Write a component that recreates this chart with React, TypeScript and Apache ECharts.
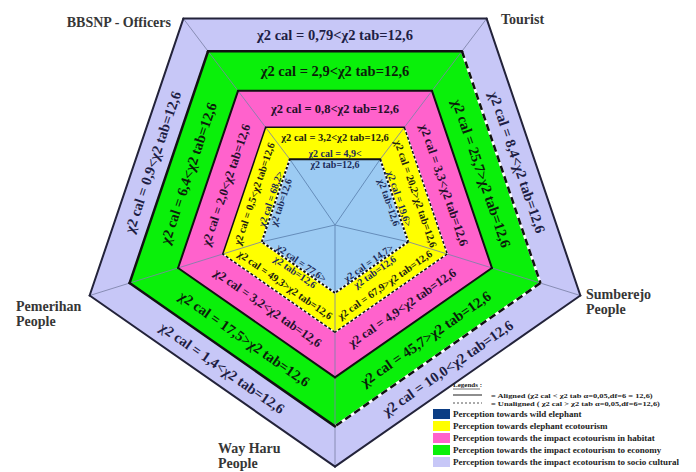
import { useEffect, useRef } from "react";
import * as echarts from "echarts";

// ---------- data ----------
const chiTab = 12.6;
// vertex labels, clockwise from top-left
const vertexLabels = ["BBSNP - Officers", "Tourist", "Sumberejo\nPeople", "Way Haru\nPeople", "Pemerihan\nPeople"];
// chi-square values per side: top, right, bottom-right, bottom-left, left
const socioCultural = [0.79, 8.4, 10.0, 1.4, 0.9];
const economy = [2.9, 25.7, 45.7, 17.5, 6.4];
const habitat = [0.8, 3.3, 4.9, 3.2, 2.0];
const ecotourism = [3.2, 20.2, 67.9, 49.3, 0.5];
const wildElephant = [4.9, 19.6, 14.7, 77.6, 68.2];
// borders drawn as "unaligned" (dashed) in the figure, per side
const dashedSocio = [0, 0, 0, 0, 0];
const dashedEconomy = [0, 1, 1, 0, 0];
const dashedHabitat = [0, 0, 0, 0, 0];
const dashedEcotourism = [0, 1, 1, 1, 0];
const dashedWild = [0, 1, 1, 1, 1];
const legendTitle = "Legends :";
const legendAligned = "= Aligned (\u03c72 cal < \u03c72 tab \u03b1=0,05,df=6 = 12,6)";
const legendUnaligned = "= Unaligned ( \u03c72 cal > \u03c72 tab \u03b1=0,05,df=6=12,6)";
const legendLabels = [
  "Perception towards wild elephant",
  "Perception towards elephant ecotourism",
  "Perception towards the impact ecotourism in habitat",
  "Perception towards the impact ecotourism to economy",
  "Perception towards the impact ecotourism to socio cultural",
];

// ---------- styles / geometry ----------
const layerValues = [socioCultural, economy, habitat, ecotourism, wildElephant];
const layerDashed = [dashedSocio, dashedEconomy, dashedHabitat, dashedEcotourism, dashedWild];
const layerColors = ["#c7c7f7", "#0af00a", "#ff62cc", "#ffff00", "#9ccbf3"];
const legendColors = ["#0b3d84", "#ffff00", "#ff62cc", "#0af00a", "#c7c7f7"];
const RADII = [258, 216, 165, 118, 77];
const CX = 335;
const CY = 219;
const SY = 0.96;
const ANG = [-126, -54, 18, 90, 162].map((d) => (d * Math.PI) / 180);

const pt = (r: number, k: number): [number, number] => [
  CX + r * Math.cos(ANG[k % 5]),
  CY + r * SY * Math.sin(ANG[k % 5]),
];

const fmt = (v: number) => {
  const one = Math.abs(Math.round(v * 10) - v * 10) < 1e-9;
  return (one ? v.toFixed(1) : v.toFixed(2)).replace(".", ",");
};

const sideAngle = (r: number, k: number) => {
  const a0 = pt(r, k);
  const a1 = pt(r, k + 1);
  let a = Math.atan2(a1[1] - a0[1], a1[0] - a0[0]);
  if (a > Math.PI / 2) a -= Math.PI;
  if (a < -Math.PI / 2) a += Math.PI;
  return -a;
};

const sideMid = (r: number, k: number): [number, number] => {
  const a0 = pt(r, k);
  const a1 = pt(r, k + 1);
  return [(a0[0] + a1[0]) / 2, (a0[1] + a1[1]) / 2];
};

const SERIF = '"Liberation Serif", "DejaVu Serif", serif';
const ringFont = [14.5, 14.5, 12.5, 10.5];
const ringFrac = [0.5, 0.5, 0.5, 0.68];
const ringTextColor = ["#1e1e44", "#0a1e0a", "#24102a", "#222210"];
const borderWidth = [2, 2.5, 2, 1.5, 2];
const borderDash = [[6, 4], [7, 4], [5, 3], [3, 2], [2.5, 2]];

function buildGraphics() {
  const els: any[] = [];
  // fills
  RADII.forEach((r, i) => {
    els.push({
      type: "polygon",
      shape: { points: [0, 1, 2, 3, 4].map((k) => pt(r, k)) },
      style: { fill: layerColors[i], stroke: "none" },
      z: 1,
    });
  });
  // miter lines / spokes
  for (let k = 0; k < 5; k++) {
    const a = pt(RADII[0], k);
    const b = pt(RADII[4], k);
    els.push({
      type: "line",
      shape: { x1: a[0], y1: a[1], x2: b[0], y2: b[1] },
      style: { stroke: "#7c82a8", lineWidth: 1, opacity: 0.85 },
      z: 2,
    });
    els.push({
      type: "line",
      shape: { x1: b[0], y1: b[1], x2: CX, y2: CY + 6 },
      style: { stroke: "#5f86b4", lineWidth: 1, opacity: 0.9 },
      z: 2,
    });
  }
  // borders
  RADII.forEach((r, i) => {
    for (let k = 0; k < 5; k++) {
      const a = pt(r, k);
      const b = pt(r, k + 1);
      const shape = { x1: a[0], y1: a[1], x2: b[0], y2: b[1] };
      if (layerDashed[i][k]) {
        els.push({ type: "line", shape, style: { stroke: "#ffffff", lineWidth: borderWidth[i] }, z: 3 });
        els.push({
          type: "line",
          shape,
          style: { stroke: "#111111", lineWidth: borderWidth[i], lineDash: borderDash[i] },
          z: 4,
        });
      } else {
        els.push({
          type: "line",
          shape,
          style: { stroke: i === 0 ? "#23233a" : "#111111", lineWidth: borderWidth[i], lineCap: "round" },
          z: 4,
        });
      }
    }
  });
  // ring texts
  for (let i = 0; i < 4; i++) {
    const rIn = RADII[i + 1];
    const rOut = RADII[i];
    const r = rIn + ringFrac[i] * (rOut - rIn);
    layerValues[i].forEach((v, k) => {
      const [x, y] = sideMid(r, k);
      els.push({
        type: "text",
        x,
        y,
        rotation: sideAngle(r, k),
        style: {
          text: `\u03c72 cal = ${fmt(v)}${v < chiTab ? "<" : ">"}\u03c72 tab=${fmt(chiTab)}`,
          fill: ringTextColor[i],
          font: `bold ${ringFont[i]}px ${SERIF}`,
          align: "center",
          verticalAlign: "middle",
        },
        z: 10,
      });
    });
  }
  // inner (wild elephant) texts straddling the inner edge
  wildElephant.forEach((v, k) => {
    const [x, y] = sideMid(RADII[4], k);
    els.push({
      type: "text",
      x,
      y,
      rotation: sideAngle(RADII[4], k),
      style: {
        text: `\u03c72 cal = ${fmt(v)}${v < chiTab ? "<" : ">"}\n\u03c72 tab=${fmt(chiTab)}`,
        fill: "#1c2c58",
        font: `bold 10px ${SERIF}`,
        lineHeight: 11,
        align: "center",
        verticalAlign: "middle",
      },
      z: 10,
    });
  });
  // vertex labels
  const vPos: [number, number, string][] = [
    [171, 22, "right"],
    [501, 19, "left"],
    [586, 302, "left"],
    [218, 456, "left"],
    [16, 314, "left"],
  ];
  vertexLabels.forEach((t, k) => {
    els.push({
      type: "text",
      x: vPos[k][0],
      y: vPos[k][1],
      style: {
        text: t,
        fill: "#363636",
        font: `bold 14px ${SERIF}`,
        lineHeight: 15,
        align: vPos[k][2],
        verticalAlign: "middle",
      },
      z: 10,
    });
  });
  // legend
  const lx = 453;
  els.push({
    type: "text",
    x: lx,
    y: 385,
    style: { text: legendTitle, fill: "#222", font: `bold 7px ${SERIF}`, align: "left", verticalAlign: "middle" },
    z: 10,
  });
  els.push({ type: "line", shape: { x1: lx, y1: 389, x2: lx + 27, y2: 389 }, style: { stroke: "#333", lineWidth: 0.7 }, z: 10 });
  els.push({ type: "line", shape: { x1: lx, y1: 395, x2: lx + 29, y2: 395 }, style: { stroke: "#444", lineWidth: 1.2 }, z: 10 });
  els.push({ type: "line", shape: { x1: lx, y1: 403, x2: lx + 29, y2: 403 }, style: { stroke: "#555", lineWidth: 1, lineDash: [2, 2] }, z: 10 });
  [legendAligned, legendUnaligned].forEach((t, j) => {
    els.push({
      type: "text",
      x: 491,
      y: 395.5 + j * 8,
      scaleX: 1.2,
      style: { text: t, fill: "#222", font: `bold 7px ${SERIF}`, align: "left", verticalAlign: "middle" },
      z: 10,
    });
  });
  legendLabels.forEach((t, j) => {
    const y = 414 + j * 12;
    els.push({
      type: "rect",
      shape: { x: 433, y: y - 5, width: 17, height: 10 },
      style: { fill: legendColors[j] },
      z: 10,
    });
    els.push({
      type: "text",
      x: lx,
      y,
      style: { text: t, fill: "#222", font: `bold 9px ${SERIF}`, align: "left", verticalAlign: "middle" },
      z: 10,
    });
  });
  return els;
}

export default function App() {
  const ref = useRef<HTMLDivElement>(null);
  useEffect(() => {
    if (!ref.current) return;
    const chart = echarts.init(ref.current, undefined, { renderer: "svg" });
    chart.setOption({
      animation: false,
      backgroundColor: "#ffffff",
      graphic: { elements: buildGraphics() },
    });
    return () => chart.dispose();
  }, []);
  return (
    <div
      ref={ref}
      style={{ position: "fixed", left: 0, top: 0, width: 696, height: 472, background: "#fff" }}
    />
  );
}
